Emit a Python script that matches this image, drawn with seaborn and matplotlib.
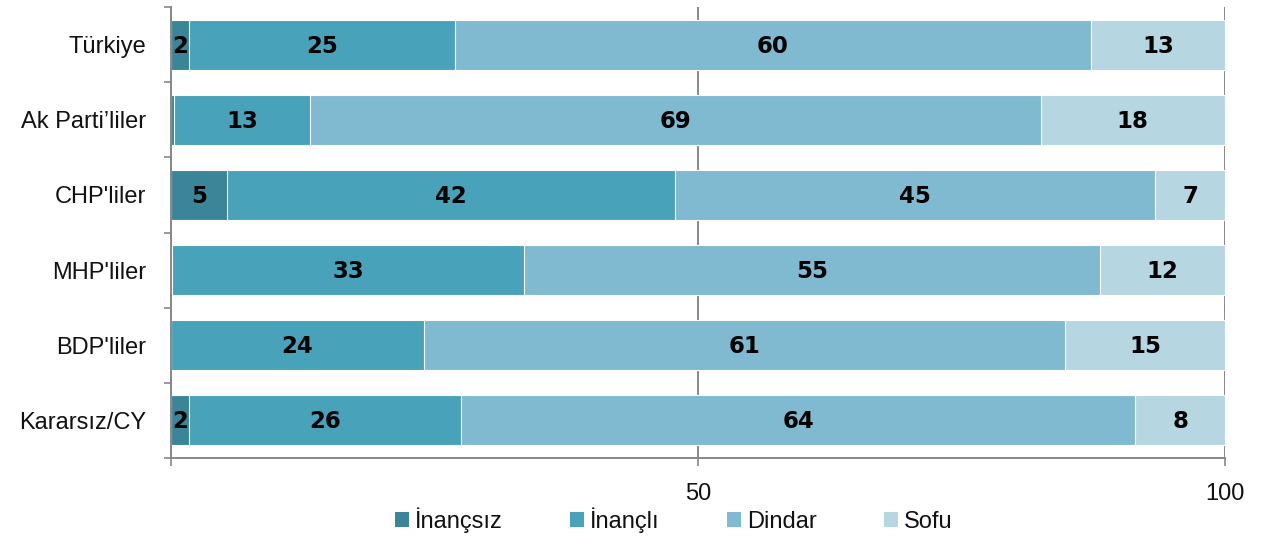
import matplotlib
matplotlib.use("Agg")
import matplotlib.pyplot as plt
from matplotlib.patches import Patch
import pandas as pd
import seaborn as sns

# Kategoriler ve seriler (yüzde)
gruplar = ["Türkiye", "Ak Parti’liler", "CHP'liler", "MHP'liler", "BDP'liler", "Kararsız/CY"]
inancsiz = [1.7, 0.3, 5.3, 0.1, 0.0, 1.7]
inancli = [25.2, 12.9, 42.5, 33.4, 24.0, 25.8]
dindar = [60.4, 69.3, 45.6, 54.6, 60.8, 64.0]
sofu = [12.7, 17.5, 6.6, 11.9, 15.2, 8.5]

# Çubuk üzerindeki etiketler
etiket_inancsiz = ["2", "", "5", "", "", "2"]
etiket_inancli = ["25", "13", "42", "33", "24", "26"]
etiket_dindar = ["60", "69", "45", "55", "61", "64"]
etiket_sofu = ["13", "18", "7", "12", "15", "8"]

seri_adlari = ["İnançsız", "İnançlı", "Dindar", "Sofu"]
renkler = ["#3a8698", "#48a2ba", "#7fbad0", "#b6d6e1"]

sns.set_style("white")
plt.rcParams["font.family"] = ["Liberation Sans", "DejaVu Sans"]

seriler = [inancsiz, inancli, dindar, sofu]
etiketler = [etiket_inancsiz, etiket_inancli, etiket_dindar, etiket_sofu]

# kümülatif toplamlar
kumulatif = []
toplam = [0.0] * len(gruplar)
for s in seriler:
    toplam = [a + b for a, b in zip(toplam, s)]
    kumulatif.append(list(toplam))

fig = plt.figure(figsize=(12.61, 5.36), dpi=100)
ax = fig.add_axes([171 / 1261, 1 - 458 / 536, (1225 - 171) / 1261, 451 / 536])

# en uzundan başlayarak üst üste çiz
for i in range(len(seriler) - 1, -1, -1):
    df = pd.DataFrame({"grup": gruplar, "deger": kumulatif[i]})
    sns.barplot(data=df, x="deger", y="grup", orient="h", color=renkler[i],
                saturation=1, width=0.667, edgecolor="white", linewidth=0.8,
                errorbar=None, ax=ax, zorder=2)

# değer etiketleri
for i, s in enumerate(seriler):
    for j, g in enumerate(gruplar):
        if etiketler[i][j] == "":
            continue
        merkez = kumulatif[i][j] - s[j] / 2
        ax.text(merkez, j + 0.02, etiketler[i][j], ha="center", va="center",
                fontsize=16.5, fontweight="heavy", family="DejaVu Sans",
                color="black", zorder=5)

ax.set_xlim(0, 100)
ax.set_ylim(5.5, -0.5)
ax.set_xlabel("")
ax.set_ylabel("")

ax.set_xticks([0, 50, 100])
ax.set_xticklabels(["", "50", "100"], fontsize=17)
ax.tick_params(axis="x", direction="out", length=6, width=1.2, color="#888888",
               pad=12, bottom=True, labelcolor="#111111")
ax.xaxis.grid(True, color="#888888", linewidth=1.4, zorder=0)
ax.set_axisbelow(True)

ax.set_yticks(range(len(gruplar)))
ax.set_yticklabels(gruplar, fontsize=17)
ax.set_yticks([k - 0.5 for k in range(len(gruplar) + 1)], minor=True)
ax.tick_params(axis="y", which="major", length=0, pad=18, labelcolor="#111111")
ax.tick_params(axis="y", which="minor", direction="out", length=5, width=1.2,
               color="#888888", left=True)

for kenar in ["top", "right"]:
    ax.spines[kenar].set_visible(False)
for kenar in ["left", "bottom"]:
    ax.spines[kenar].set_color("#888888")
    ax.spines[kenar].set_linewidth(1.4)

tutamaclar = [Patch(facecolor=r, edgecolor="none") for r in renkler]
fig.legend(tutamaclar, seri_adlari, loc="center", ncol=4,
           bbox_to_anchor=(674 / 1261, 1 - 520 / 536), frameon=False,
           fontsize=17, handlelength=0.6, handleheight=0.6,
           handletextpad=0.25, columnspacing=2.85, labelcolor="#111111")

fig.savefig("out.png", dpi=100)
